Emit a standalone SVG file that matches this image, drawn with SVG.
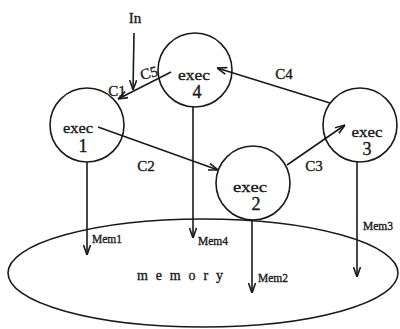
<svg xmlns="http://www.w3.org/2000/svg" width="400" height="329" viewBox="0 0 400 329">
  <defs>
    <marker id="ah" viewBox="0 0 10 8" refX="10" refY="4" markerWidth="10" markerHeight="8" orient="auto" markerUnits="userSpaceOnUse">
      <path d="M0,0.5 L10,4 L0,7.5" fill="none" stroke="#1a1a1a" stroke-width="1.6"/>
    </marker>
  </defs>
  <style>
    .node { fill: none; stroke: #1a1a1a; stroke-width: 1.6; }
    .conn { fill: none; stroke: #1a1a1a; stroke-width: 1.6; marker-end: url(#ah); }
    .lbl { font-family: "Liberation Serif", "DejaVu Serif", serif; fill: #1a1a1a; stroke: #1a1a1a; stroke-width: 0.35; }
    .ex { font-size: 15px; text-anchor: middle; }
    .num { font-size: 18px; text-anchor: middle; }
    .c { font-size: 15px; text-anchor: middle; }
    .mem { font-size: 12px; }
  </style>
  <rect width="400" height="329" fill="#ffffff"/>

  <!-- shared store -->
  <g id="memory">
    <ellipse class="node" cx="203" cy="273" rx="195" ry="54"/>
    <text class="lbl" x="137" y="280" font-family="Liberation Mono, monospace" font-size="14" textLength="86" lengthAdjust="spacing">memory</text>
  </g>

  <!-- executors -->
  <g id="exec1">
    <circle class="node" cx="87" cy="125" r="37"/>
    <text class="lbl ex" x="78" y="133" textLength="30" lengthAdjust="spacingAndGlyphs">exec</text>
    <text class="lbl num" x="83" y="152">1</text>
  </g>
  <g id="exec4">
    <circle class="node" cx="195" cy="70" r="37"/>
    <text class="lbl ex" x="194" y="80" textLength="32" lengthAdjust="spacingAndGlyphs">exec</text>
    <text class="lbl num" x="197" y="98">4</text>
  </g>
  <g id="exec3">
    <circle class="node" cx="360" cy="125" r="37"/>
    <text class="lbl ex" x="367" y="137" textLength="31" lengthAdjust="spacingAndGlyphs">exec</text>
    <text class="lbl num" x="367" y="155">3</text>
  </g>
  <g id="exec2">
    <circle class="node" cx="253" cy="183" r="37"/>
    <text class="lbl ex" x="250" y="192" textLength="34" lengthAdjust="spacingAndGlyphs">exec</text>
    <text class="lbl num" x="256" y="210">2</text>
  </g>

  <!-- connectors -->
  <g id="connectors">
    <line class="conn" x1="134" y1="33" x2="133" y2="90"/>
    <line class="conn" x1="171" y1="72" x2="118" y2="99"/>
    <line class="conn" x1="330" y1="103" x2="217" y2="68"/>
    <line class="conn" x1="287" y1="165" x2="345" y2="125"/>
    <line class="conn" x1="98" y1="127" x2="218" y2="170"/>
    <line class="conn" x1="87" y1="162" x2="87" y2="255"/>
    <line class="conn" x1="193" y1="107" x2="193" y2="238"/>
    <line class="conn" x1="252" y1="220" x2="252" y2="293"/>
    <line class="conn" x1="357" y1="162" x2="357" y2="277"/>

    <text class="lbl c" x="135" y="23">In</text>
    <text class="lbl c" x="149" y="78" transform="rotate(-15 149 73)">C5</text>
    <text class="lbl c" x="117" y="96">C1</text>
    <text class="lbl c" x="146" y="171">C2</text>
    <text class="lbl c" x="314" y="171">C3</text>
    <text class="lbl c" x="284" y="79">C4</text>

    <text class="lbl mem" x="92" y="243" textLength="30" lengthAdjust="spacingAndGlyphs">Mem1</text>
    <text class="lbl mem" x="198" y="245" textLength="30" lengthAdjust="spacingAndGlyphs">Mem4</text>
    <text class="lbl mem" x="258" y="282" textLength="30" lengthAdjust="spacingAndGlyphs">Mem2</text>
    <text class="lbl mem" x="363" y="230" textLength="30" lengthAdjust="spacingAndGlyphs">Mem3</text>
  </g>
</svg>
